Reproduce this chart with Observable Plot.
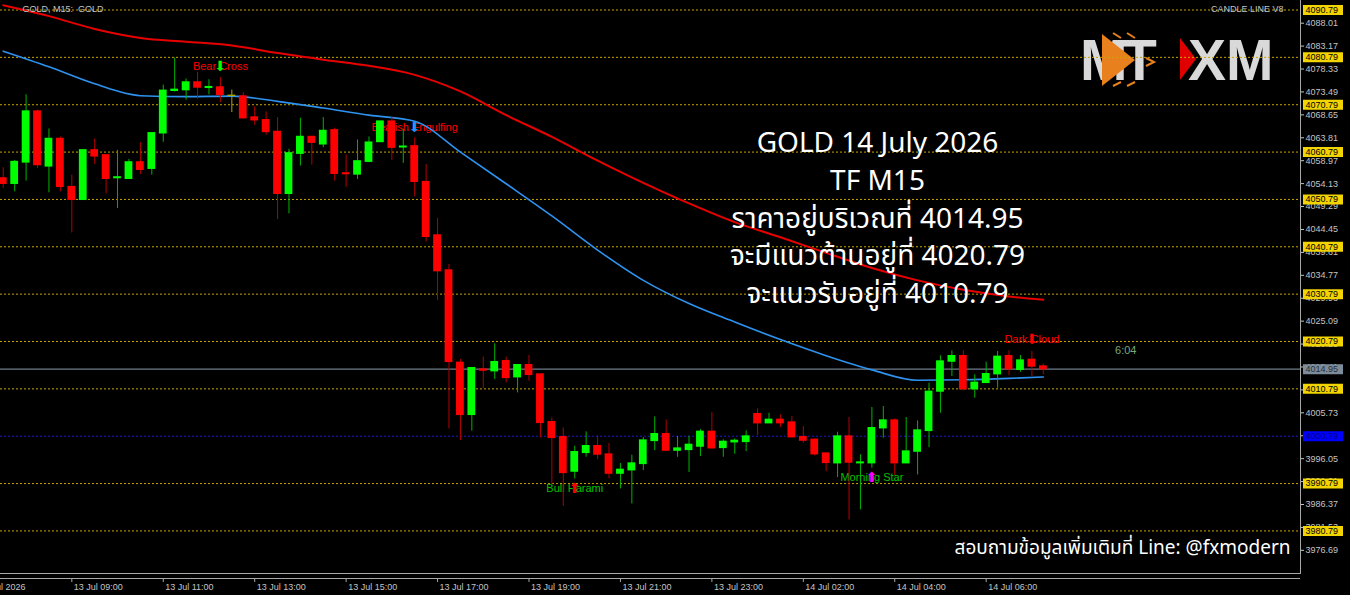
<!DOCTYPE html>
<html><head><meta charset="utf-8">
<script src="https://cdn.jsdelivr.net/npm/d3@7"></script>
<script src="https://cdn.jsdelivr.net/npm/@observablehq/plot@0.6"></script>
<style>
html,body{margin:0;padding:0;background:#000;}
#wrap{position:relative;width:1350px;height:595px;overflow:hidden;background:#000;}
#logo,#chart{position:absolute;left:0;top:0;}
</style></head><body>
<div id="wrap">
<svg id="logo" width="1350" height="595">
  <g font-family="Liberation Sans, Arial, sans-serif" font-weight="bold" font-size="57" fill="#d9d9d9">
    <text x="1080" y="80">M</text>
    <text x="1122" y="80">T</text>
    <text x="1188" y="80">XM</text>
  </g>
  <polygon points="1102,34 1135,60 1102,86" fill="#e8801e"/>
  <g fill="none" stroke="#e8801e" stroke-width="2">
    <polyline points="1113,33 1121,38"/><polyline points="1127,33 1135,38"/>
    <polyline points="1146,58 1154,62 1146,66"/>
    <polyline points="1113,86 1121,82"/><polyline points="1127,86 1135,82"/>
  </g>
  <polygon points="1180,38 1196,59 1180,80" fill="#e00000"/>
</svg>
<div id="chart"></div>
</div>
<script>
// ---- candle data (M15, index 0 = 13 Jul 07:30) ----
const opens  = [4055.23,4054.10,4058.61,4069.35,4057.77,4063.56,4053.39,4050.71,4061.16,4060.10,
                4055.30,4055.15,4058.61,4057.27,4064.76,4073.73,4073.87,4075.49,4074.36,4074.43,
                4072.67,4072.53,4068.08,4067.51,4065.04,4051.98,4060.45,4063.98,4062.43,4065.39,
                4056.28,4056.07,4058.76,4062.92,4067.23,4061.79,4062.00,4054.45,4043.18,4035.79,
                4016.28,4005.30,4014.87,4014.52,4016.64,4013.25,4015.79,4013.82,4003.75,4000.58,
                3993.33,3997.27,3998.68,3996.92,3992.90,3993.61,3994.94,3999.80,4001.21,3997.76,
                3997.90,3998.61,4001.71,3998.32,3999.52,3999.59,4005.44,4003.54,4004.24,4003.68,
                4000.58,4000.02,3997.13,3995.09,4000.72,3995.09,3995.09,4002.48,4004.10,3995.09,
                3997.55,4001.92,4010.23,4016.56,4017.69,4010.72,4012.06,4013.89,4017.69,4014.81,
                4016.91,4015.51];
const highs  = [4057.48,4059.04,4072.88,4069.63,4065.68,4063.98,4055.93,4061.16,4063.56,4060.10,
                4061.16,4059.25,4062.78,4064.76,4074.93,4080.65,4076.20,4077.61,4076.06,4076.55,
                4073.87,4073.37,4070.34,4069.28,4068.08,4061.37,4067.94,4063.98,4068.08,4065.82,
                4060.17,4063.35,4063.98,4067.23,4068.08,4065.61,4063.82,4058.18,4046.78,4037.06,
                4016.99,4015.16,4017.48,4020.30,4017.48,4015.93,4017.83,4013.82,4004.66,4002.55,
                3998.68,4001.71,4000.79,3999.24,3995.02,3996.78,4000.51,4004.87,4004.24,4000.72,
                4000.79,4002.20,4005.79,4000.02,4000.23,4001.92,4006.56,4005.65,4005.30,4004.94,
                4002.83,4000.23,3997.13,4001.64,4004.73,3996.85,4006.85,4007.06,4004.45,4004.73,
                4004.03,4011.99,4017.76,4018.82,4018.82,4013.75,4016.42,4018.68,4018.82,4017.83,
                4018.68,4016.00];
const lows   = [4053.11,4052.40,4054.66,4057.34,4052.19,4052.40,4043.71,4050.71,4058.19,4051.98,
                4048.87,4055.15,4056.07,4055.93,4062.85,4073.45,4071.75,4071.96,4072.88,4071.26,
                4069.14,4067.94,4066.45,4064.34,4046.54,4047.74,4057.84,4058.05,4061.72,4054.66,
                4053.39,4055.01,4058.54,4062.92,4059.04,4058.40,4051.35,4041.78,4029.45,4002.34,
                3999.87,4001.85,4010.86,4012.76,4012.06,4009.94,4012.41,4000.44,3990.58,3986.00,
                3991.78,3996.35,3995.86,3991.78,3989.66,3986.49,3993.54,3997.76,3997.55,3996.35,
                3993.11,3996.49,3998.11,3996.35,3996.99,3997.55,4000.93,4003.54,4002.62,4000.58,
                3999.31,3996.63,3993.32,3992.06,3983.11,3985.23,3994.03,4000.37,3992.48,3995.09,
                3992.62,3998.40,4005.65,4013.40,4010.37,4008.82,4011.92,4010.93,4013.54,4014.31,
                4013.40,4013.75];
const closes = [4054.10,4058.69,4069.35,4058.05,4063.56,4053.46,4050.71,4061.16,4059.89,4055.15,
                4055.44,4058.61,4057.06,4064.76,4073.73,4073.94,4075.49,4074.43,4074.50,4072.88,
                4072.67,4067.94,4067.51,4065.04,4051.98,4060.52,4063.98,4062.78,4065.25,4056.21,
                4056.14,4058.83,4062.78,4067.23,4061.72,4061.93,4054.52,4042.90,4035.65,4016.49,
                4005.30,4015.16,4014.66,4016.42,4013.11,4015.79,4013.75,4003.61,4000.44,3993.04,
                3997.41,3998.68,3996.92,3992.90,3993.68,3995.02,3999.87,4001.21,3997.76,3998.18,
                3998.96,4001.71,3998.25,3999.59,3999.80,4000.72,4003.54,4004.24,4003.54,4000.58,
                3999.87,3996.99,3995.16,4000.72,3995.23,3995.23,4002.48,4004.10,3995.09,3997.55,
                4001.99,4010.16,4016.56,4017.69,4010.72,4012.06,4013.89,4017.55,4014.95,4016.77,
                4015.51,4014.95];

// ---- moving averages, read at every 4th bar ----
const maIdx  = [0,4,8,12,16,20,24,28,32,36,40,44,48,52,56,60,64,68,72,76,80,84,88,91];
const slowMA = [4091.8,4089.5,4086.8,4084.9,4084.1,4083.3,4081.7,4080.3,4079.0,4077.1,4073.6,4068.6,
                4064.0,4059.0,4054.3,4049.95,4046.0,4042.8,4039.5,4036.3,4033.7,4031.7,4030.3,4029.6];
const fastMA = [4082.1,4078.8,4075.2,4072.7,4072.5,4072.6,4071.5,4070.1,4068.6,4067.3,4060.8,4054.1,
                4047.3,4040.1,4033.7,4028.8,4024.9,4021.2,4017.8,4014.8,4012.6,4012.7,4013.0,4013.3];

// ---- price levels and axis ----
const yellowLevels = [4090.79,4080.79,4070.79,4060.79,4050.79,4040.79,4030.79,4020.79,4010.79,3990.79,3980.79];
const blueLevel = 4000.79;
const currentPrice = 4014.95;
const priceTicks = [4088.01,4083.17,4078.33,4073.49,4068.65,4063.81,4058.97,4054.13,4049.29,4044.45,
                    4039.61,4034.77,4029.93,4025.09,4020.25,4015.41,4010.57,4005.73,4000.89,3996.05,
                    3991.21,3986.37,3981.53,3976.69];
const yDomain = [3971.80, 4092.80];
const xDomain = [-0.24, 113.5];

// ---- time axis ----
const timeTicks  = [-2.3,6,14,22,30,38,46,54,62,70,78,86];
const timeLabels = ["13 Jul 2026","13 Jul 09:00","13 Jul 11:00","13 Jul 13:00","13 Jul 15:00","13 Jul 17:00",
                    "13 Jul 19:00","13 Jul 21:00","13 Jul 23:00","14 Jul 02:00","14 Jul 04:00","14 Jul 06:00"];

// ---- candle pattern signals ----
const patIdx    = [19, 36, 50, 76, 90];
const patPrice  = [4078.86, 4065.98, 3989.75, 3992.07, 4021.21];
const patLabel  = ["Bear Cross","Bearish Engulfing","Bull Harami","Morning Star","Dark Cloud"];
const patArrow  = ["⬇","⬇","⬆","⬆","⬇"];
const patText   = ["#ff0000","#ff0000","#00c000","#00c000","#ff0000"];
const patArrowC = ["#00ff00","#1e90ff","#ff0000","#ff00ff","#ff0000"];

const infoLines = ["GOLD 14 July 2026","TF M15","ราคาอยู่บริเวณที่ 4014.95","จะมีแนวต้านอยู่ที่ 4020.79","จะแนวรับอยู่ที่ 4010.79"];
const footer = "สอบถามข้อมูลเพิ่มเติมที่ Line: @fxmodern";

const candles = opens.map((o, i) => ({i, o, h: highs[i], l: lows[i], c: closes[i]}));
const slow = maIdx.map((i, k) => ({i, v: slowMA[k]}));
const fast = maIdx.map((i, k) => ({i, v: fastMA[k]}));
const pats = patIdx.map((i, k) => ({i, p: patPrice[k], label: patLabel[k], arrow: patArrow[k], tc: patText[k], ac: patArrowC[k]}));
const labelOf = new Map(timeTicks.map((t, k) => [t, timeLabels[k]]));

const bodyColor = d => d.c > d.o ? "#00ff00" : d.c < d.o ? "#ff0000" : "#a8a800";
const wickColor = d => d.c > d.o ? "#00b400" : d.c < d.o ? "#b40000" : "#a8a800";
const axisGray = "#c4c4c4";
const FONT = "Liberation Sans, Arial, sans-serif";
const THAI = "Noto Sans, Noto Sans Thai, sans-serif";

const chart = Plot.plot({
  width: 1350, height: 595,
  marginLeft: 0, marginRight: 50, marginTop: 0, marginBottom: 22,
  style: {background: "transparent", color: axisGray, fontFamily: FONT, fontSize: "9px", overflow: "hidden"},
  x: {domain: xDomain, axis: null},
  y: {domain: yDomain, axis: null},
  color: {type: "identity"},
  marks: [
    Plot.ruleY(yellowLevels, {stroke: "#c8a600", strokeDasharray: "2,2", strokeWidth: 1}),
    Plot.ruleY([blueLevel], {stroke: "#1a1ad0", strokeDasharray: "2,2", strokeWidth: 1}),
    Plot.ruleY([currentPrice], {stroke: "#6f7d8a", strokeWidth: 1.2}),
    Plot.text(pats, {x: "i", y: "p", text: "label", fill: "tc", fontSize: 11, fontFamily: FONT}),
    Plot.text(pats, {x: "i", y: "p", text: "arrow", fill: "ac", fontSize: 14, fontFamily: "DejaVu Sans"}),
    Plot.line(slow, {x: "i", y: "v", stroke: "#e80000", strokeWidth: 2, curve: "monotone-x"}),
    Plot.line(fast, {x: "i", y: "v", stroke: "#2e93f0", strokeWidth: 1.6, curve: "monotone-x"}),
    Plot.ruleX(candles, {x: "i", y1: "l", y2: "h", stroke: wickColor, strokeWidth: 1}),
    Plot.rect(candles, {x1: d => d.i - 0.34, x2: d => d.i + 0.34,
      y1: d => Math.min(d.o, d.c), y2: d => Math.max(d.o, d.c),
      fill: bodyColor, insetTop: -0.7, insetBottom: -0.7}),
    // right price axis
    Plot.frame({anchor: "right", stroke: "#a8a8a8"}),
    Plot.frame({anchor: "bottom", stroke: "#a8a8a8"}),
    Plot.ruleY([yDomain[0]], {dy: 5, stroke: "#a8a8a8"}),
    Plot.axisY(priceTicks, {anchor: "right", tickSize: 3, tickPadding: 2, tickFormat: d => d.toFixed(2), color: axisGray, fontSize: 9}),
    Plot.ruleY(yellowLevels, {stroke: "#f2d400", strokeWidth: 10, insetLeft: 1303, insetRight: -43}),
    Plot.text(yellowLevels, {y: d => d, text: d => d.toFixed(2), frameAnchor: "right", textAnchor: "start", dx: 5, fill: "#000", fontSize: 9}),
    Plot.ruleY([blueLevel], {stroke: "#0000ff", strokeWidth: 10, insetLeft: 1303, insetRight: -43}),
    Plot.text([blueLevel], {y: d => d, text: d => d.toFixed(2), frameAnchor: "right", textAnchor: "start", dx: 5, fill: "#00008a", fontSize: 9}),
    Plot.ruleY([currentPrice], {stroke: "#7d8c9a", strokeWidth: 10, insetLeft: 1303, insetRight: -43}),
    Plot.text([currentPrice], {y: d => d, text: d => d.toFixed(2), frameAnchor: "right", textAnchor: "start", dx: 5, fill: "#2a3038", fontSize: 9}),
    // time axis
    Plot.ruleX(timeTicks, {x: d => d, stroke: "#a8a8a8", insetTop: 578, insetBottom: -9}),
    Plot.text(timeTicks, {x: d => d, text: d => labelOf.get(d), frameAnchor: "bottom", lineAnchor: "middle", textAnchor: "start", dx: 2, dy: 14, fill: axisGray, fontSize: 9}),
    // header texts
    Plot.text(["GOLD, M15:  GOLD"], {frameAnchor: "top-left", lineAnchor: "middle", dx: 22, dy: 9, textAnchor: "start", fill: axisGray, fontSize: 9}),
    Plot.text(["CANDLE LINE V8"], {frameAnchor: "top-right", lineAnchor: "middle", dx: -17, dy: 9, textAnchor: "end", fill: axisGray, fontSize: 9}),
    Plot.text(["6:04"], {frameAnchor: "top-right", lineAnchor: "middle", dx: -164, dy: 350, fill: "#78a878", fontSize: 11}),
    // commentary
    Plot.text([infoLines.join("\n")], {frameAnchor: "top", lineAnchor: "middle", dx: 227, dy: 215, lineHeight: 1.34, fontSize: 28,
      fill: "#ffffff", fontFamily: THAI}),
    Plot.text([footer], {frameAnchor: "bottom-right", lineAnchor: "middle", dx: -10, dy: -26, textAnchor: "end", fontSize: 19,
      fill: "#ffffff", fontFamily: THAI})
  ]
});
document.getElementById("chart").appendChild(chart);
</script>
</body></html>
